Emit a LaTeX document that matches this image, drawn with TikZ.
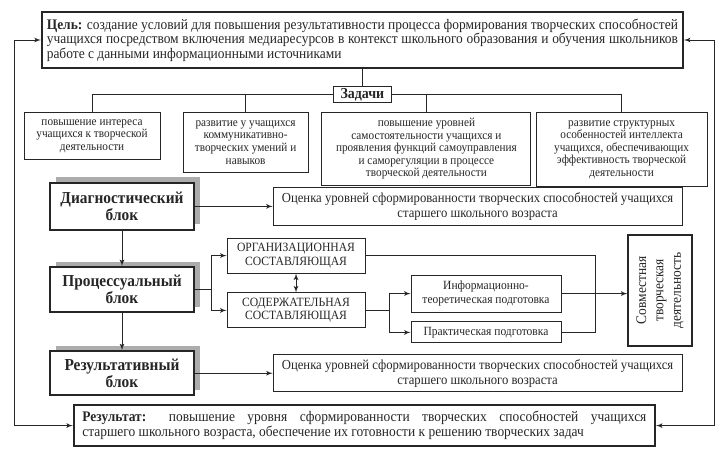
\documentclass[tikz,border=0pt]{standalone}
\usepackage{fontspec}
\setmainfont{Liberation Serif}[FakeStretch=0.92]
\usepackage{tikz}
\usetikzlibrary{shapes}
\usetikzlibrary{positioning}
\usetikzlibrary{arrows}
\usetikzlibrary{shadows}
\tikzset{node distance=2cm, % Boxes are placed at coordinates below
    >=latex', % Small filled arrow heads
    every node/.style={text=black!85}}

\begin{document}
\begin{tikzpicture}[
            color=black!85, line width=0.6pt,
            goalbox/.style={rectangle, draw, line width=1.4pt, text width=15.78cm, inner xsep=0.125cm, minimum height=1.4cm, align=justify, font=\fontsize{10.4}{10.2}\selectfont},
            resultbox/.style={rectangle, draw, line width=1.4pt, text width=14.1cm, inner xsep=0.215cm, minimum height=1.03cm, align=justify, font=\fontsize{10.4}{10.9}\selectfont},
            taskhead/.style={rectangle, draw, minimum width=1.43cm, minimum height=0.38cm, inner sep=1pt, font=\bfseries\fontsize{10.8}{11}\selectfont},
            task/.style={rectangle, draw, anchor=north, align=center, inner sep=1pt, font=\fontsize{8.7}{8.9}\selectfont},
            block/.style={rectangle, draw, line width=1.4pt, fill=white, minimum width=3.6cm, align=center, font=\bfseries\fontsize{11.9}{12.4}\selectfont,
                drop shadow={shadow xshift=0.15cm, shadow yshift=0.14cm, fill=gray!65, opacity=1}},
            assess/.style={rectangle, draw, minimum width=10.225cm, align=center, font=\fontsize{9.8}{10.8}\selectfont},
            part/.style={rectangle, draw, minimum width=3.45cm, minimum height=0.875cm, align=center, font=\fontsize{9}{9.6}\selectfont},
            prep/.style={rectangle, draw, minimum width=3.75cm, align=center, font=\fontsize{8.9}{9.6}\selectfont},
            joint/.style={rectangle, draw, line width=0.9pt, rotate=90, minimum width=2.775cm, minimum height=1.6cm, align=center, font=\fontsize{10.4}{12.4}\selectfont}
        ]
        \useasboundingbox (0,0) rectangle (18.1,-11.4);

        % Goal
        \node[goalbox] (goal) at (9.06,-1.0) {\textbf{Цель:} создание условий для повышения результативности процесса формирования творческих способностей\linebreak
            учащихся посредством включения медиаресурсов в контекст школьного образования и обучения школьников\linebreak
            работе с данными информационными источниками};

        % Tasks
        \node[taskhead] (tasks) at (9.06,-2.36) {Задачи};
        \node[task, minimum width=3.4cm, minimum height=1.175cm] (t1) at (2.3,-2.8) {повышение интереса\\ учащихся к творческой\\ деятельности};
        \node[task, minimum width=3.125cm, minimum height=1.5cm] (t2) at (6.14,-2.8) {развитие у учащихся\\ коммуникативно-\\ творческих умений и\\ навыков};
        \node[task, minimum width=5.225cm, minimum height=1.825cm] (t3) at (10.66,-2.8) {повышение уровней\\ самостоятельности учащихся и\\ проявления функций самоуправления\\ и саморегуляции в процессе\\ творческой деятельности};
        \node[task, minimum width=4.275cm, minimum height=1.85cm] (t4) at (15.54,-2.8) {развитие структурных\\ особенностей интеллекта\\ учащихся, обеспечивающих\\ эффективность творческой\\ деятельности};

        % Blocks
        \node[block, minimum height=1.175cm] (diag) at (3.05,-5.16) {Диагностический\\ блок};
        \node[block, minimum height=1.125cm] (proc) at (3.05,-7.24) {Процессуальный\\ блок};
        \node[block, minimum height=1.1cm] (res) at (3.05,-9.33) {Результативный\\ блок};

        % Assessment
        \node[assess, minimum height=0.95cm] (est1) at (11.94,-5.16) {Оценка уровней сформированности творческих способностей учащихся\\ старшего школьного возраста};
        \node[assess, minimum height=0.9cm] (est2) at (11.94,-9.33) {Оценка уровней сформированности творческих способностей учащихся\\ старшего школьного возраста};

        % Process parts
        \node[part] (org) at (7.4,-6.39) {ОРГАНИЗАЦИОННАЯ\\ СОСТАВЛЯЮЩАЯ};
        \node[part] (cont) at (7.4,-7.76) {СОДЕРЖАТЕЛЬНАЯ\\ СОСТАВЛЯЮЩАЯ};
        \node[prep, minimum height=0.925cm] (info) at (12.15,-7.34) {Информационно-\\ теоретическая подготовка};
        \node[prep, minimum height=0.525cm] (prac) at (12.15,-8.31) {Практическая подготовка};
        \node[joint] (joint) at (16.5,-7.26) {Совместная\\ творческая\\ деятельность};

        % Result
        \node[resultbox] (result) at (9.11,-10.64) {\textbf{Результат:} повышение уровня сформированности творческих способностей учащихся\linebreak
            старшего школьного возраста, обеспечение их готовности к решению творческих задач};

        % Helper points
        \coordinate (lft) at (0.35,0);
        \coordinate (rgt) at (17.85,0);
        \coordinate (fork1) at (5.28,-7.24);
        \coordinate (fork2) at (9.73,-7.76);
        \coordinate (col) at (14.88,0);

        % Goal to tasks
        \draw (goal) -- (tasks);
        \draw (t1.north) |- (tasks.west);
        \draw (t2.north) |- (tasks.west);
        \draw (t3.north) |- (tasks.east);
        \draw (t4.north) |- (tasks.east);

        % Block chain
        \draw[->] (diag) -- (proc);
        \draw[->] (proc) -- (res);
        \draw[->] (diag) -- (est1);
        \draw[->] (res) -- (est2);

        % Process block to its parts
        \draw (proc.east) -- (fork1);
        \draw[->] (fork1) |- (org.west);
        \draw[->] (fork1) |- (cont.west);
        \draw[<->] (org) -- (cont);
        \draw (cont.east) -- (fork2);
        \draw[->] (fork2) |- (info.west);
        \draw[->] (fork2) |- (prac.west);

        % Into joint activity
        \draw (org.east) -- (org.east -| col) -- (prac.east -| col) -- (prac.east);
        \draw[->] (info.east) -- (info.east -| joint.north);

        % Feedback loops
        \draw[<->] (goal.west) -- (goal.west -| lft) -- (result.west -| lft) -- (result.west);
        \draw[<->] (goal.east) -- (goal.east -| rgt) -- (result.east -| rgt) -- (result.east);

    \end{tikzpicture}
\end{document}
